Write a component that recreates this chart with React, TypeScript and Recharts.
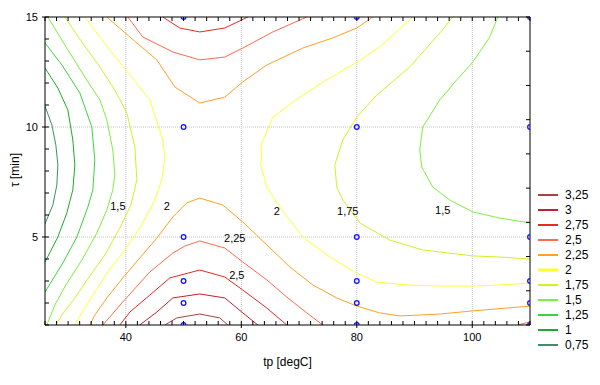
import React from 'react';
import { ComposedChart, Line, Scatter, XAxis, YAxis, ReferenceLine, ReferenceDot } from 'recharts';

const FONT = '"Liberation Sans", Arial, Helvetica, sans-serif';

type P = [number, number];

// ---- axes ----
const X_DOMAIN: [number, number] = [26, 110];
const Y_DOMAIN: [number, number] = [1, 15];
const xTicks = [26, 28, 30, 32, 34, 36, 38, 40, 42, 44, 46, 48, 50, 52, 54, 56, 58, 60, 62, 64, 66, 68, 70, 72, 74, 76, 78, 80, 82, 84, 86, 88, 90, 92, 94, 96, 98, 100, 102, 104, 106, 108, 110];
const xLabelTicks = [40, 60, 80, 100];
const yTicks = [1, 2, 3, 4, 5, 6, 7, 8, 9, 10, 11, 12, 13, 14, 15];
const yLabelTicks = [5, 10, 15];
const yRightTicks = [15, 13.444, 11.889, 10.333, 8.778, 7.222, 5.667, 4.111, 2.556, 1];
const gridX = [40, 60, 80, 100];
const gridY = [5, 10];

// ---- contour levels (legend order) ----
const levelNames = ['3,25', '3', '2,75', '2,5', '2,25', '2', '1,75', '1,5', '1,25', '1', '0,75'];
const levelColors = ['#a8423e', '#c0222e', '#e42a22', '#ff6a4a', '#ffa028', '#ffff30', '#d4f026', '#7cf040', '#3cd23c', '#22a82a', '#3f8f68'];

// ---- design points ----
const designPoints = [
  { x: 50, y: 15 }, { x: 50, y: 10 }, { x: 50, y: 5 }, { x: 50, y: 3 }, { x: 50, y: 2 }, { x: 50, y: 1 },
  { x: 80, y: 15 }, { x: 80, y: 10 }, { x: 80, y: 5 }, { x: 80, y: 3 }, { x: 80, y: 2 }, { x: 80, y: 1 },
  { x: 110, y: 15 }, { x: 110, y: 10 }, { x: 110, y: 5 }, { x: 110, y: 3 }, { x: 110, y: 2 }, { x: 110, y: 1 },
];

// ---- contour lines (x = tp, y = tau) ----
const level325: P[] = [[46.75, 1.0], [48.83, 1.32], [52.81, 1.5], [56.28, 1.32], [57.66, 1.0]];
const level300: P[] = [[42.42, 1.0], [45.37, 1.59], [48.14, 2.23], [52.81, 2.41], [57.14, 2.23], [60.26, 1.55], [62.86, 1.0]];
const level275Top: P[] = [[46.41, 15], [49.35, 14.5], [52.81, 14.32], [57.14, 14.5], [61.13, 15]];
const level275Bottom: P[] = [[38.96, 1.0], [40.7, 1.59], [44.16, 2.36], [47.62, 3.14], [52.81, 3.5], [57.14, 3.18], [60.26, 2.59], [64.42, 1.77], [67.88, 1.0]];
const level250Top: P[] = [[40.35, 15], [42.94, 14.09], [48.14, 13.41], [52.81, 13.05], [57.14, 13.18], [60.26, 13.59], [65.46, 14.32], [71.34, 15]];
const level250Bottom: P[] = [[36.02, 1.0], [39.48, 2.05], [44.16, 3.41], [48.14, 4.27], [50.22, 4.59], [52.81, 4.82], [57.14, 4.5], [60.26, 3.86], [64.42, 3.05], [67.88, 2.27], [71.34, 1.55], [74.11, 1.0]];
const level250Corner: P[] = [[107.88, 1.0], [110, 1.14]];
const level225Top: P[] = [[36.71, 15], [40.7, 14.09], [45.37, 13.05], [48.49, 11.82], [52.81, 11.09], [57.14, 11.36], [60.26, 12.05], [64.42, 12.82], [70.65, 13.59], [75.84, 14.05], [80.0, 14.5], [82.77, 15]];
const level225Bottom: P[] = [[33.77, 1.0], [34.63, 1.45], [36.71, 2.23], [39.48, 3.14], [42.42, 4.05], [45.37, 4.95], [48.14, 5.91], [50.56, 6.55], [52.81, 6.77], [56.8, 6.45], [60.26, 5.68], [64.42, 4.64], [68.4, 3.64], [72.38, 2.82], [76.54, 2.23], [80.0, 1.86], [83.98, 1.55], [87.45, 1.41], [94.37, 1.5], [100.09, 1.64], [110, 1.86]];
const level200Left: P[] = [[32.9, 15], [37.23, 13.5], [40.7, 12.36], [44.16, 11.23], [46.41, 9.41], [46.75, 8.64], [46.23, 7.59], [45.02, 6.68], [42.77, 5.55], [39.83, 4.41], [36.88, 3.41], [34.63, 2.5], [32.38, 1.55], [31.17, 1.0]];
const level200Right: P[] = [[89.7, 15], [83.98, 13.64], [80.0, 12.95], [74.81, 12.14], [70.13, 11.36], [65.46, 10.45], [63.55, 9.27], [63.38, 8.27], [64.42, 7.27], [66.67, 6.36], [70.65, 5.0], [75.32, 4.09], [80.0, 3.36], [83.46, 2.95], [88.66, 2.82], [94.37, 2.77], [100.09, 2.77], [104.76, 2.82], [110, 2.91]];
const level175Left: P[] = [[29.44, 15], [32.38, 13.86], [35.5, 12.73], [38.1, 11.68], [40.17, 10.64], [41.56, 9.09], [41.91, 7.59], [40.87, 6.45], [38.96, 5.41], [36.36, 4.18], [33.77, 3.23], [31.17, 2.23], [28.92, 1.45], [27.88, 1.0]];
const level175Right: P[] = [[96.63, 15], [94.37, 14.27], [89.18, 12.73], [83.46, 11.45], [80.0, 10.45], [77.58, 9.41], [76.19, 8.27], [76.54, 7.27], [77.58, 6.68], [80.52, 5.64], [85.71, 4.86], [91.43, 4.41], [100.09, 4.14], [104.76, 4.09], [110, 4.0]];
const level150Left: P[] = [[26.49, 15], [29.44, 13.73], [32.9, 12.27], [35.5, 11.23], [36.71, 10.32], [37.75, 8.95], [38.1, 7.82], [37.75, 7.14], [36.71, 6.23], [34.98, 5.18], [32.38, 3.95], [29.61, 2.82], [27.71, 1.91], [26.32, 1.0]];
const level150Right: P[] = [[104.42, 15], [103.03, 14.09], [100.09, 12.95], [97.32, 12.14], [94.37, 11.23], [91.43, 10.0], [90.91, 8.95], [91.26, 8.18], [93.16, 7.27], [96.11, 6.68], [100.09, 6.14], [104.76, 5.86], [110, 5.64]];
const level125: P[] = [[26, 13.82], [28.92, 12.82], [32.03, 11.55], [34.11, 10.0], [34.63, 8.5], [34.29, 7.14], [33.42, 6.36], [31.52, 5.0], [29.09, 3.82], [26, 2.5]];
const level100: P[] = [[26, 12.68], [28.23, 11.77], [29.96, 10.77], [30.82, 9.41], [31.17, 8.27], [30.82, 7.14], [29.78, 6.09], [28.23, 5.0], [26, 3.86]];
const level075: P[] = [[26, 10.95], [27.19, 10.09], [27.88, 9.18], [28.23, 8.27], [28.05, 7.36], [27.36, 6.45], [26, 5.6]];

// level index refers to levelNames / levelColors
const contours: { id: string; level: number; pts: P[] }[] = [
  { id: 'l075', level: 10, pts: level075 },
  { id: 'l100', level: 9, pts: level100 },
  { id: 'l125', level: 8, pts: level125 },
  { id: 'l150a', level: 7, pts: level150Left },
  { id: 'l150b', level: 7, pts: level150Right },
  { id: 'l175a', level: 6, pts: level175Left },
  { id: 'l175b', level: 6, pts: level175Right },
  { id: 'l200a', level: 5, pts: level200Left },
  { id: 'l200b', level: 5, pts: level200Right },
  { id: 'l225a', level: 4, pts: level225Top },
  { id: 'l225b', level: 4, pts: level225Bottom },
  { id: 'l250a', level: 3, pts: level250Top },
  { id: 'l250b', level: 3, pts: level250Bottom },
  { id: 'l250c', level: 3, pts: level250Corner },
  { id: 'l275a', level: 2, pts: level275Top },
  { id: 'l275b', level: 2, pts: level275Bottom },
  { id: 'l300', level: 1, pts: level300 },
  { id: 'l325', level: 0, pts: level325 },
];

// contour labels inside the plot
const contourLabels = [
  { x: 38.62, y: 6.41, text: '1,5' },
  { x: 47.1, y: 6.41, text: '2' },
  { x: 66.15, y: 6.18, text: '2' },
  { x: 78.44, y: 6.18, text: '1,75' },
  { x: 58.87, y: 4.95, text: '2,25' },
  { x: 59.22, y: 3.27, text: '2,5' },
  { x: 94.89, y: 6.23, text: '1,5' },
];

const TICK = 4;

function BottomTick(props: any) {
  const { x, y, payload } = props;
  const v = payload.value;
  const major = xLabelTicks.includes(v);
  return (
    <g>
      <line x1={x} x2={x} y1={y} y2={y - TICK} stroke="#000" />
      {major && <line x1={x} x2={x} y1={y} y2={y + 3} stroke="#000" />}
      {major && (
        <text x={x} y={y + 16} textAnchor="middle" fontSize={11} fontFamily={FONT} fill="#000">
          {v}
        </text>
      )}
    </g>
  );
}

function TopTick(props: any) {
  const { x, y } = props;
  return <line x1={x} x2={x} y1={y} y2={y + TICK} stroke="#000" />;
}

function LeftTick(props: any) {
  const { x, y, payload } = props;
  const v = payload.value;
  const major = yLabelTicks.includes(v);
  return (
    <g>
      <line x1={x} x2={x + TICK} y1={y} y2={y} stroke="#000" />
      {major && <line x1={x} x2={x - 3} y1={y} y2={y} stroke="#000" />}
      {major && (
        <text x={x - 7} y={y + 4} textAnchor="end" fontSize={11} fontFamily={FONT} fill="#000">
          {v}
        </text>
      )}
    </g>
  );
}

function RightTick(props: any) {
  const { x, y } = props;
  return <line x1={x} x2={x - TICK} y1={y} y2={y} stroke="#000" />;
}

function DesignPoint(props: any) {
  const { cx, cy } = props;
  return <circle cx={cx} cy={cy} r={2.3} fill="none" stroke="#1010ff" strokeWidth={1.3} />;
}

export default function App() {
  return (
    <div style={{ position: 'relative', width: 592, height: 377, fontFamily: FONT }}>
      <ComposedChart width={592} height={377} margin={{ top: 4, right: 66, bottom: 30, left: 7 }}>
        <XAxis
          type="number"
          dataKey="x"
          domain={X_DOMAIN}
          allowDataOverflow
          ticks={xTicks}
          interval={0}
          tickSize={0}
          tickMargin={0}
          height={30}
          tick={<BottomTick />}
          tickLine={false}
          axisLine={{ stroke: '#000', strokeWidth: 1 }}
        />
        <XAxis
          xAxisId="top"
          orientation="top"
          type="number"
          dataKey="x"
          domain={X_DOMAIN}
          allowDataOverflow
          ticks={xTicks}
          interval={0}
          tickSize={0}
          tickMargin={0}
          height={5}
          tick={<TopTick />}
          tickLine={false}
          axisLine={{ stroke: '#000', strokeWidth: 1 }}
        />
        <YAxis
          type="number"
          dataKey="y"
          domain={Y_DOMAIN}
          allowDataOverflow
          ticks={yTicks}
          interval={0}
          tickSize={0}
          tickMargin={0}
          width={30}
          tick={<LeftTick />}
          tickLine={false}
          axisLine={{ stroke: '#000', strokeWidth: 1 }}
        />
        <YAxis
          yAxisId="right"
          orientation="right"
          type="number"
          dataKey="y"
          domain={Y_DOMAIN}
          allowDataOverflow
          ticks={yRightTicks}
          interval={0}
          tickSize={0}
          tickMargin={0}
          width={4}
          tick={<RightTick />}
          tickLine={false}
          axisLine={{ stroke: '#000', strokeWidth: 1 }}
        />
        {gridX.map((g) => (
          <ReferenceLine key={'gx' + g} x={g} stroke="#c4c4c4" strokeDasharray="1 1" />
        ))}
        {gridY.map((g) => (
          <ReferenceLine key={'gy' + g} y={g} stroke="#c4c4c4" strokeDasharray="1 1" />
        ))}
        {contours.map((c) => (
          <Line
            key={c.id}
            data={c.pts.map(([x, y]) => ({ x, y }))}
            dataKey="y"
            type="linear"
            stroke={levelColors[c.level]}
            strokeWidth={1}
            dot={false}
            activeDot={false}
            legendType="none"
            isAnimationActive={false}
          />
        ))}
        <Scatter data={designPoints} shape={<DesignPoint />} isAnimationActive={false} legendType="none" />
        {contourLabels.map((l, i) => (
          <ReferenceDot
            key={'lab' + i}
            x={l.x}
            y={l.y}
            r={0}
            shape={(p: any) => (
              <text x={p.cx} y={p.cy + 4} textAnchor="middle" fontSize={11} fontFamily={FONT} fill="#000">
                {l.text}
              </text>
            )}
          />
        ))}
      </ComposedChart>

      <div
        style={{
          position: 'absolute',
          left: 279.5,
          top: 354,
          transform: 'translate(-50%, -50%)',
          fontSize: 12,
          whiteSpace: 'nowrap',
          color: '#000',
        }}
      >
        tp [degC]
      </div>
      <div
        style={{
          position: 'absolute',
          left: 7,
          top: 162,
          transform: 'translate(-50%, -50%) rotate(-90deg)',
          fontSize: 12,
          whiteSpace: 'nowrap',
          color: '#000',
        }}
      >
        τ [min]
      </div>

      <svg style={{ position: 'absolute', left: 528, top: 178 }} width={64} height={175}>
        {levelNames.map((n, i) => {
          const cy = 9 + i * 15;
          return (
            <g key={n}>
              <line x1={2} x2={22} y1={cy} y2={cy} stroke={levelColors[i]} strokeWidth={i === 5 ? 3 : 2} />
              <text x={29} y={cy + 4} fontSize={12} fontFamily={FONT} fill="#000">
                {n}
              </text>
            </g>
          );
        })}
      </svg>
    </div>
  );
}
